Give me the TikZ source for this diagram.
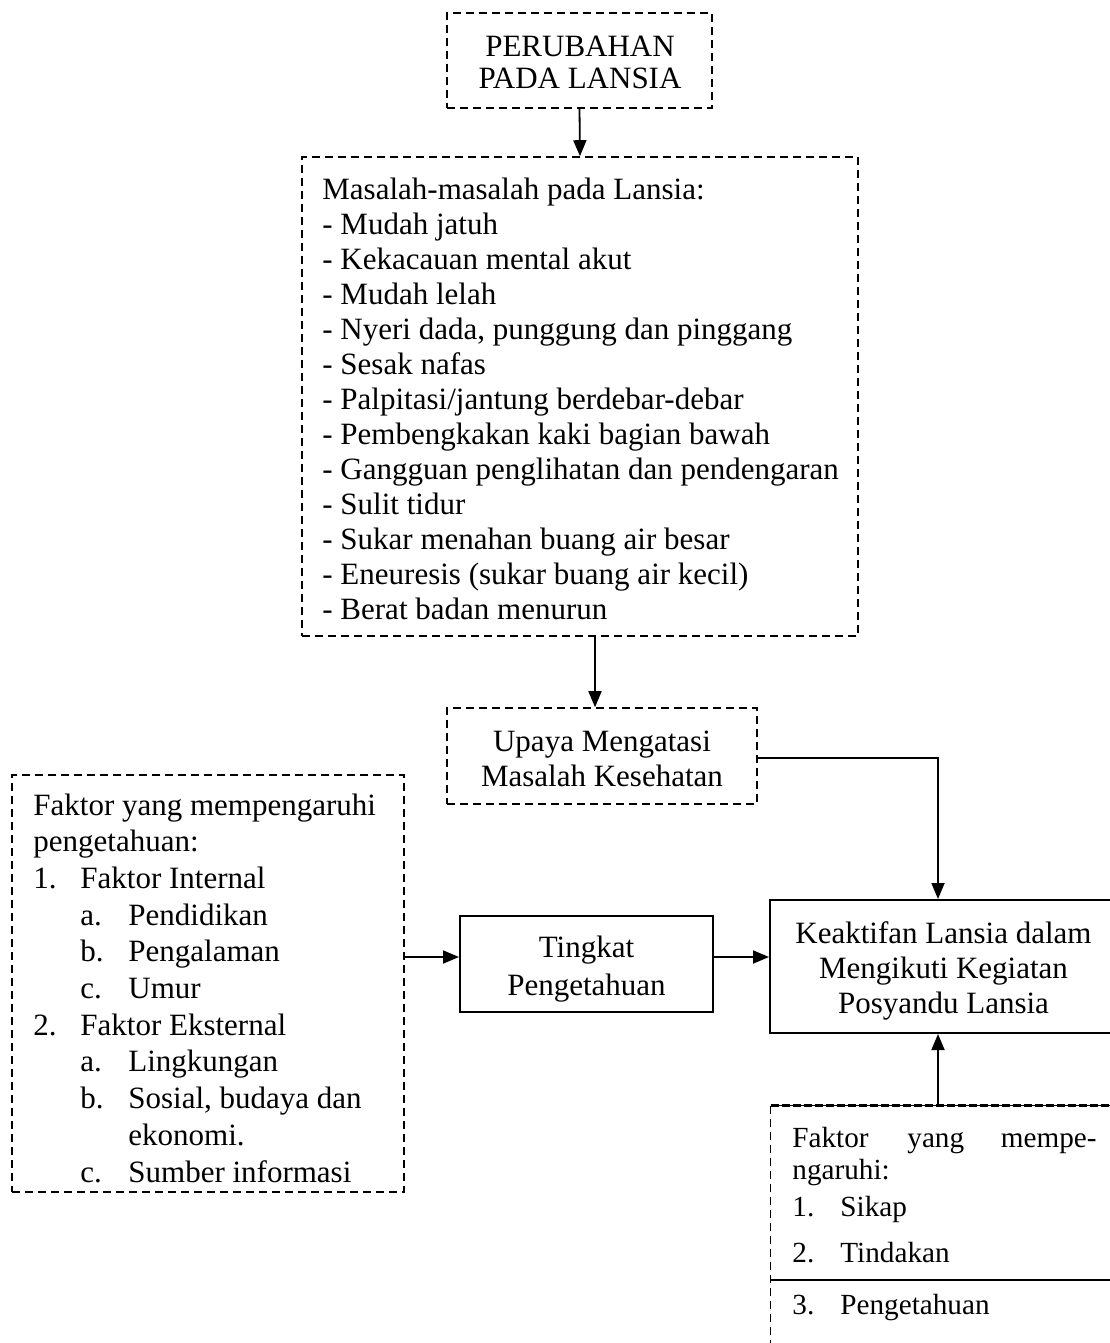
\documentclass[tikz,border=0pt]{standalone}
\usepackage{fontspec}
\setmainfont{Liberation Serif}
\usetikzlibrary{arrows.meta,fit,calc}
\begin{document}
\begin{tikzpicture}[x=0.5pt,y=-0.5pt,
  dbox/.style={draw, dash pattern=on 4pt off 2.5pt, line width=0.8pt, inner sep=0pt},
  sbox/.style={draw, line width=1pt, inner sep=0pt},
  ghost/.style={inner sep=0pt},
  arr/.style={line width=0.9pt, -{Triangle[length=8pt,width=6.5pt]}},
  conn/.style={line width=0.9pt},
  txt/.style={inner sep=0pt, anchor=base west, font=\fontsize{15.5}{18}\selectfont},
  ctxt/.style={inner sep=0pt, anchor=base, font=\fontsize{15.5}{18}\selectfont},
  stxt/.style={inner sep=0pt, anchor=base west, font=\fontsize{14.6}{17}\selectfont}]
\useasboundingbox (0,0) rectangle (1109,1343);

% boxes
\node[dbox, fit={(447,13) (712,108)}] (b1) {};
\node[dbox, fit={(302,157) (858,636)}] (b2) {};
\node[dbox, fit={(447,708) (757,804)}] (b3) {};
\node[dbox, fit={(12,775) (404,1192)}] (b4) {};
\node[sbox, fit={(460,916) (713,1012)}] (b5) {};
\node[sbox, fit={(770,900) (1116,1033)}] (b6) {};
\node[ghost, fit={(771,1106) (1116,1350)}] (b7) {};
\draw[line width=0.5pt] (b7.north west) -- (b7.north east);
\draw[line width=1.2pt, dash pattern=on 4pt off 1.5pt] (b7.north west) -- (b7.north east);
\draw[dbox] (b7.north west) -- (b7.south west);
\coordinate (c7) at (0,1280);
\draw[line width=0.9pt] (b7.west |- c7) -- (b7.east |- c7);

% texts
\node[ctxt] (t1a) at (580,57) {PERUBAHAN};
\node[ctxt] (t1b) at (580,89) {PADA LANSIA};

\foreach \t [count=\i from 0] in {Masalah-masalah pada Lansia:, - Mudah jatuh, - Kekacauan mental akut, - Mudah lelah, {- Nyeri dada, punggung dan pinggang}, - Sesak nafas, - Palpitasi/jantung berdebar-debar, - Pembengkakan kaki bagian bawah, - Gangguan penglihatan dan pendengaran, - Sulit tidur, - Sukar menahan buang air besar, - Eneuresis (sukar buang air kecil), - Berat badan menurun}
  \node[txt] (m\i) at (322,199+35*\i) {\t};

\node[ctxt] (t3a) at (602,751) {Upaya Mengatasi};
\node[ctxt] (t3b) at (602,786) {Masalah Kesehatan};

\node[txt] (l0) at (33,815) {Faktor yang mempengaruhi};
\node[txt] (l1) at (33,851.7) {pengetahuan:};
\node[txt] (n2) at (33,888.4) {1.};
\node[txt] (l2) at (80,888.4) {Faktor Internal};
\node[txt] (n3) at (80,925.1) {a.};
\node[txt] (l3) at (128,925.1) {Pendidikan};
\node[txt] (n4) at (80,961.8) {b.};
\node[txt] (l4) at (128,961.8) {Pengalaman};
\node[txt] (n5) at (80,998.5) {c.};
\node[txt] (l5) at (128,998.5) {Umur};
\node[txt] (n6) at (33,1035.2) {2.};
\node[txt] (l6) at (80,1035.2) {Faktor Eksternal};
\node[txt] (n7) at (80,1071.9) {a.};
\node[txt] (l7) at (128,1071.9) {Lingkungan};
\node[txt] (n8) at (80,1108.6) {b.};
\node[txt] (l8) at (128,1108.6) {Sosial, budaya dan};
\node[txt] (l9) at (128,1145.3) {ekonomi.};
\node[txt] (n10) at (80,1182) {c.};
\node[txt] (l10) at (128,1182) {Sumber informasi};

\node[ctxt] (t5a) at (586.5,957) {Tingkat};
\node[ctxt] (t5b) at (586.5,995) {Pengetahuan};

\node[ctxt] (t6a) at (943.5,943) {Keaktifan Lansia dalam};
\node[ctxt] (t6b) at (943.5,978) {Mengikuti Kegiatan};
\node[ctxt] (t6c) at (943.5,1013) {Posyandu Lansia};

\node[stxt] (s0a) at (792,1147) {Faktor};
\node[stxt] (s0b) at (907,1147) {yang};
\node[stxt, anchor=base east] (s0c) at (1097,1147) {mempe-};
\node[stxt] (s1) at (792,1179) {ngaruhi:};
\node[stxt] (s2n) at (792,1216) {1.};
\node[stxt] (s2) at (840,1216) {Sikap};
\node[stxt] (s3n) at (792,1262) {2.};
\node[stxt] (s3) at (840,1262) {Tindakan};
\node[stxt] (s4n) at (792,1314) {3.};
\node[stxt] (s4) at (840,1314) {Pengetahuan};

% connectors
\coordinate (c23) at (595,0);
\coordinate (c6) at (938,0);
\coordinate (r1) at (0,957);
\coordinate (r3) at (0,758);
\draw[arr] (b1.south) -- (b2.north);
\draw[arr] (b2.south -| c23) -- (b3.north -| c23);
\draw[arr] (b3.east |- r3) -| (b6.north -| c6);
\draw[arr] (b4.east |- r1) -- (b5.west |- r1);
\draw[arr] (b5.east |- r1) -- (b6.west |- r1);
\draw[arr] (b7.north -| c6) -- (b6.south -| c6);
\end{tikzpicture}
\end{document}
